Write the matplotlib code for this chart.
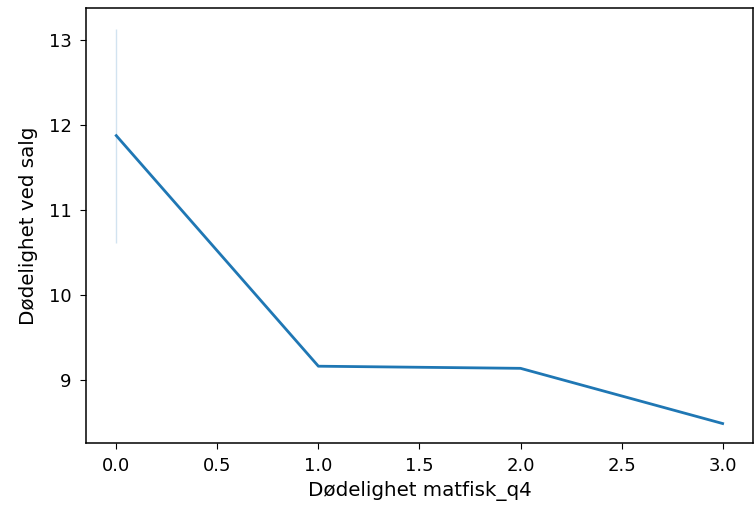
import numpy as np
import matplotlib
matplotlib.use("Agg")
import matplotlib.pyplot as plt

# mean mortality at sale per level of the q4 feed-fish mortality
x_vals = [0.0, 1.0, 2.0, 3.0]
mean_vals = [11.88, 9.165, 9.14, 8.49]
# confidence band (only x=0 has more than one observation)
ci_low = [10.61, np.nan, np.nan, np.nan]
ci_high = [13.14, np.nan, np.nan, np.nan]

plt.rcParams.update({
    'font.size': 13,
    'axes.labelsize': 14.3,
    'xtick.labelsize': 13,
    'ytick.labelsize': 13,
    'xtick.major.size': 4.3,
    'ytick.major.size': 4.3,
    'xtick.major.pad': 6,
    'ytick.major.pad': 6,
    'axes.linewidth': 1.1,
})

fig = plt.figure(figsize=(7.54, 5.14), dpi=100)
ax = fig.add_axes([0.114, 0.138, 0.8846, 0.846])

ax.fill_between(x_vals, ci_low, ci_high, color='#1f77b4', alpha=0.2, lw=1)
ax.plot(x_vals, mean_vals, color='#1f77b4', lw=2.0)

ax.set_xlabel('Dødelighet matfisk_q4', labelpad=4)
ax.set_ylabel('Dødelighet ved salg', labelpad=8)
ax.set_xticks([0.0, 0.5, 1.0, 1.5, 2.0, 2.5, 3.0])
ax.set_yticks([9, 10, 11, 12, 13])
ax.set_xlim(-0.15, 3.15)
ax.set_ylim(8.26, 13.38)

fig.savefig('out.png', dpi=100)
